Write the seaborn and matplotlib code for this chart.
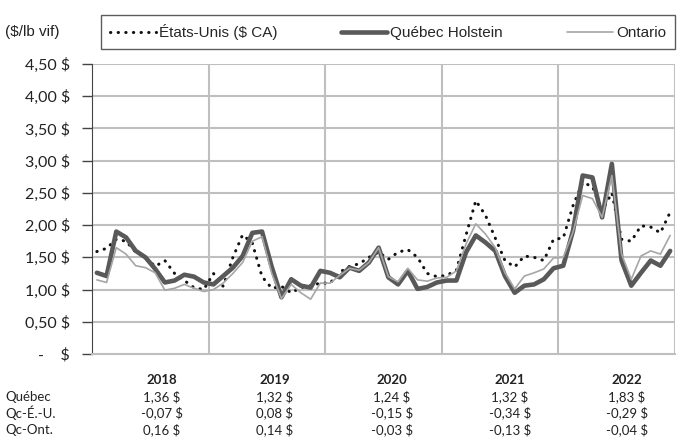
import pandas as pd
import seaborn as sns
import matplotlib.pyplot as plt

# Monthly prices ($/lb vif), Jan 2018 - Dec 2022
years = ["2018", "2019", "2020", "2021", "2022"]

quebec = [1.26, 1.21, 1.90, 1.81, 1.60, 1.50, 1.32, 1.11, 1.14, 1.23, 1.20, 1.11,
          1.08, 1.21, 1.34, 1.52, 1.88, 1.90, 1.35, 0.88, 1.16, 1.06, 1.03, 1.29,
          1.26, 1.19, 1.34, 1.29, 1.42, 1.65, 1.19, 1.08, 1.29, 1.01, 1.04, 1.11,
          1.14, 1.14, 1.58, 1.84, 1.73, 1.60, 1.21, 0.95, 1.06, 1.08, 1.16, 1.33,
          1.37, 1.91, 2.77, 2.74, 2.12, 2.95, 1.45, 1.06, 1.26, 1.45, 1.37, 1.60]

ontario = [1.15, 1.11, 1.65, 1.55, 1.37, 1.34, 1.26, 0.99, 1.02, 1.08, 1.02, 0.97,
           1.00, 1.10, 1.25, 1.42, 1.75, 1.82, 1.25, 0.86, 1.08, 0.95, 0.85, 1.10,
           1.10, 1.22, 1.33, 1.30, 1.42, 1.65, 1.20, 1.12, 1.33, 1.15, 1.13, 1.18,
           1.19, 1.29, 1.71, 2.02, 1.86, 1.65, 1.26, 1.01, 1.21, 1.26, 1.32, 1.49,
           1.50, 1.89, 2.46, 2.41, 2.12, 2.77, 1.55, 1.16, 1.52, 1.60, 1.55, 1.84]

usa = [1.59, 1.64, 1.78, 1.75, 1.58, 1.50, 1.36, 1.45, 1.25, 1.14, 1.03, 1.00,
       1.25, 1.05, 1.50, 1.85, 1.72, 1.20, 1.02, 1.05, 0.95, 1.03, 1.06, 1.10,
       1.10, 1.27, 1.36, 1.40, 1.50, 1.58, 1.47, 1.58, 1.62, 1.50, 1.25, 1.20,
       1.22, 1.30, 1.85, 2.38, 2.15, 1.80, 1.45, 1.35, 1.52, 1.50, 1.45, 1.78,
       1.80, 2.30, 2.66, 2.60, 2.22, 2.50, 1.78, 1.75, 1.99, 1.97, 1.88, 2.20]

# Summary table under the chart
row_labels = ["Québec", "Qc-É.-U.", "Qc-Ont."]
tbl_quebec = ["1,36 $", "1,32 $", "1,24 $", "1,32 $", "1,83 $"]
tbl_qc_us = ["-0,07 $", "0,08 $", "-0,15 $", "-0,34 $", "-0,29 $"]
tbl_qc_ont = ["0,16 $", "0,14 $", "-0,03 $", "-0,13 $", "-0,04 $"]

df = pd.DataFrame({"mois": range(len(quebec)), "usa": usa,
                   "quebec": quebec, "ontario": ontario})

sns.set_style("white")
plt.rcParams["font.family"] = ["Lato", "DejaVu Sans"]

fig = plt.figure(figsize=(6.83, 4.41), dpi=100)
ax = fig.add_axes([92 / 683, 1 - 354 / 441, 583 / 683, 290 / 441])

grid_c = "#bfbfbf"
for v in [0.5, 1.0, 1.5, 2.0, 2.5, 3.0, 3.5, 4.0, 4.5]:
    ax.axhline(v, color=grid_c, lw=1.5, zorder=0)
for b in [11.5, 23.5, 35.5, 47.5, 59.5]:
    ax.axvline(b, color=grid_c, lw=1.5, zorder=0)

sns.lineplot(data=df, x="mois", y="usa", ax=ax, color="#111111", lw=2.2,
             label="États-Unis ($ CA)", zorder=3)
ax.lines[-1].set_linestyle((0, (0.1, 2.4)))
ax.lines[-1].set_dash_capstyle("round")
sns.lineplot(data=df, x="mois", y="quebec", ax=ax, color="#595959", lw=3.3,
             label="Québec Holstein", zorder=4)
sns.lineplot(data=df, x="mois", y="ontario", ax=ax, color="#a6a6a6", lw=1.2,
             label="Ontario", zorder=5)
for ln in ax.lines[-3:]:
    ln.set_solid_joinstyle("round")
    ln.set_solid_capstyle("round")

ax.set_xlim(-0.5, 59.5)
ax.set_ylim(0, 4.5)
ax.set_xticks([])
ax.set_xlabel("")
ax.set_ylabel("")
ticks = [0, 0.5, 1.0, 1.5, 2.0, 2.5, 3.0, 3.5, 4.0, 4.5]
ax.set_yticks(ticks)
ax.set_yticklabels(["-    $"] + [f"{t:.2f} $".replace(".", ",") for t in ticks[1:]],
                   fontsize=11.5, color="#222222")
ax.tick_params(axis="y", left=True, length=7, width=1, color="#444444", pad=9)
for s in ["top", "right"]:
    ax.spines[s].set_visible(False)
ax.spines["left"].set_color("#444444")
ax.spines["bottom"].set_color(grid_c)
ax.spines["bottom"].set_linewidth(1.5)

# Legend box at the top
h, l = ax.get_legend_handles_labels()
ax.legend_.remove()
leg = fig.legend(h, l, ncol=3, loc="center", bbox_to_anchor=(388 / 683, 1 - 32 / 441),
                 frameon=True, fancybox=False, edgecolor="#333333",
                 prop={"family": "Liberation Sans", "size": 11},
                 handlelength=3.0, columnspacing=4.2, handletextpad=0.2,
                 borderpad=0.6)
leg.get_frame().set_linewidth(1.0)
fig.text(5 / 683, 1 - 32 / 441, "($/lb vif)", fontsize=11, va="center",
         family="Liberation Sans", color="#222222")

# Table under the chart
col_x = [162, 275, 392, 510, 627]
row_y = [380, 397, 413, 430]
for x, yr in zip(col_x, years):
    fig.text(x / 683, 1 - row_y[0] / 441, yr, ha="center", va="center",
             fontsize=9.5, fontweight="bold", color="#222222")
for r, (lab, vals) in enumerate(zip(row_labels, [tbl_quebec, tbl_qc_us, tbl_qc_ont])):
    yy = 1 - row_y[r + 1] / 441
    fig.text(5 / 683, yy, lab, ha="left", va="center", fontsize=9.5, color="#222222")
    for x, v in zip(col_x, vals):
        fig.text(x / 683, yy, v, ha="center", va="center", fontsize=9.5, color="#222222")

fig.savefig("out.png", dpi=100)
